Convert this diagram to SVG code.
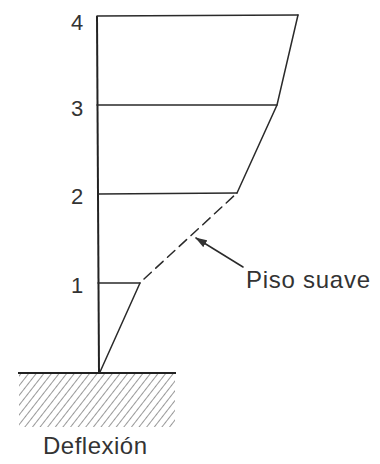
<svg xmlns="http://www.w3.org/2000/svg" width="380" height="464" viewBox="0 0 380 464">
<defs>
<style>
.ln{stroke:#2a2a2a;stroke-width:1.5;fill:none;stroke-linecap:round}
.ax{stroke:#222;stroke-width:2;fill:none}
.t{font-family:"Liberation Sans",Arial,sans-serif;fill:#333}
</style>
<marker id="ah" markerWidth="12" markerHeight="8" refX="11" refY="4" orient="auto" markerUnits="userSpaceOnUse">
<path d="M0,0 L12,4 L0,8 Z" fill="#333"/>
</marker>
<pattern id="hatch" width="6" height="6" patternUnits="userSpaceOnUse" patternTransform="rotate(38)">
<line x1="0" y1="0" x2="0" y2="6" stroke="#444" stroke-width="1.1"/>
</pattern>
</defs>
<rect width="380" height="464" fill="#fff"/>
<g id="ground">
<rect x="19" y="374" width="156" height="53" fill="url(#hatch)"/>
<line class="ax" x1="18" y1="373" x2="176" y2="373"/>
</g>
<g id="axis">
<line class="ax" x1="97" y1="16" x2="99" y2="373"/>
</g>
<g id="floors">
<line class="ln" x1="97" y1="16" x2="298" y2="15"/>
<line class="ln" x1="97" y1="105" x2="277" y2="105"/>
<line class="ln" x1="98" y1="194" x2="237" y2="193"/>
<line class="ln" x1="98" y1="283" x2="140" y2="283"/>
</g>
<g id="deflection">
<polyline class="ln" points="100,372 140,283"/>
<line class="ln" x1="144" y1="279" x2="237" y2="193" stroke-dasharray="10 6"/>
<polyline class="ln" points="237,193 277,105 298,15"/>
</g>
<g id="labels">
<text class="t" x="71" y="30" font-size="22">4</text>
<text class="t" x="71" y="116" font-size="22">3</text>
<text class="t" x="71" y="204" font-size="22">2</text>
<text class="t" x="71" y="293" font-size="22">1</text>
</g>
<g id="connectors">
<line class="ln" x1="243" y1="267" x2="196" y2="238" marker-end="url(#ah)"/>
</g>
<g id="piso-suave">
<text class="t" x="246" y="288" font-size="24" textLength="124">Piso suave</text>
</g>
<g id="deflexion">
<text class="t" x="43" y="454" font-size="24" textLength="104">Deflexión</text>
</g>
</svg>
